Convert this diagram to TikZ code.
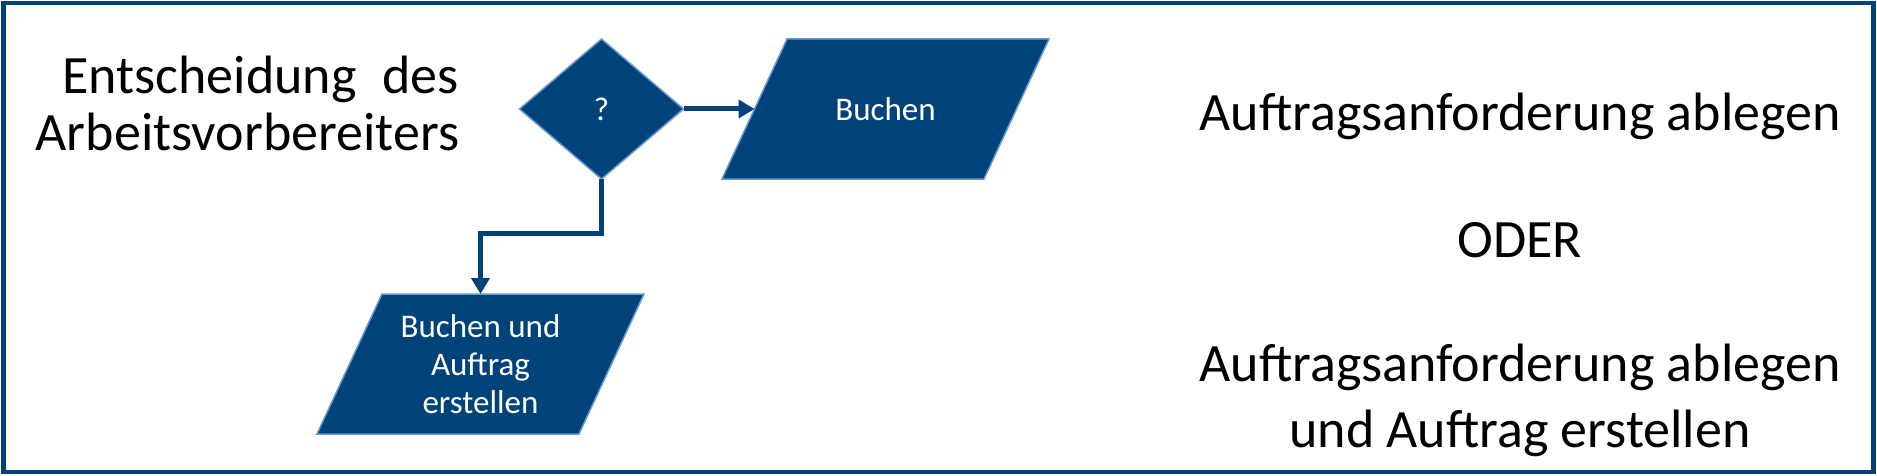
\documentclass[tikz,border=0pt]{standalone}
\usepackage{fontspec}
\setmainfont{Carlito}
\usetikzlibrary{shapes.geometric,arrows.meta,backgrounds}
\definecolor{navy}{RGB}{0,67,122}
\definecolor{edgeblue}{RGB}{105,152,205}
\begin{document}
\begin{tikzpicture}[x=1pt,y=-1pt,
 bigtext/.style={font=\fontsize{54}{58}\selectfont, inner sep=0pt, outer sep=0pt},
 boxtext/.style={font=\fontsize{33}{38}\selectfont, text=white, inner sep=0pt, outer sep=0pt, align=center},
 parabox/.style={boxtext, minimum width=262pt, minimum height=140pt},
 decision/.style={diamond, boxtext, fill=navy, draw=edgeblue, line width=1.5pt, minimum width=164pt, minimum height=140pt},
 paraface/.style={fill=navy, draw=edgeblue, line width=1.5pt, line join=miter},
 conn/.style={draw=navy, line width=5pt, -{Triangle[length=16pt,width=18pt]}},
 frame/.style={draw=navy, line width=4.5pt}]
\useasboundingbox (0,0) rectangle (1877,476);
\draw[frame] (3.5,3) rectangle (1873.5,472);

\node[bigtext, anchor=base east, align=right] (title) at (459,151) {Entscheidung\hspace{26pt}des\\Arbeitsvorbereiters};

\node[decision] (dia) at (601.5,109) {?};
\node[parabox] (b1) at (885.5,109) {Buchen};
\node[parabox] (b2) at (480.5,364) {Buchen und\\Auftrag\\erstellen};

\begin{scope}[on background layer]
\path[paraface] ([xshift=32.5pt]b1.north west) -- ([xshift=32.5pt]b1.north east) -- ([xshift=-32.5pt]b1.south east) -- ([xshift=-32.5pt]b1.south west) -- cycle;
\path[paraface] ([xshift=32.5pt]b2.north west) -- ([xshift=32.5pt]b2.north east) -- ([xshift=-32.5pt]b2.south east) -- ([xshift=-32.5pt]b2.south west) -- cycle;
\end{scope}

\draw[conn] (dia.east) -- (b1.west);
\draw[conn] (dia.south) -- ++(0,54) -| (b2.north);

\node[bigtext, anchor=base] (opt1) at (1520,131) {Auftragsanforderung ablegen};
\node[bigtext, anchor=base] (oder) at (1520,257) {ODER};
\node[bigtext, font=\fontsize{54}{66}\selectfont, anchor=base, align=center] (opt2) at (1520,447) {Auftragsanforderung ablegen\\und Auftrag erstellen};
\end{tikzpicture}
\end{document}
